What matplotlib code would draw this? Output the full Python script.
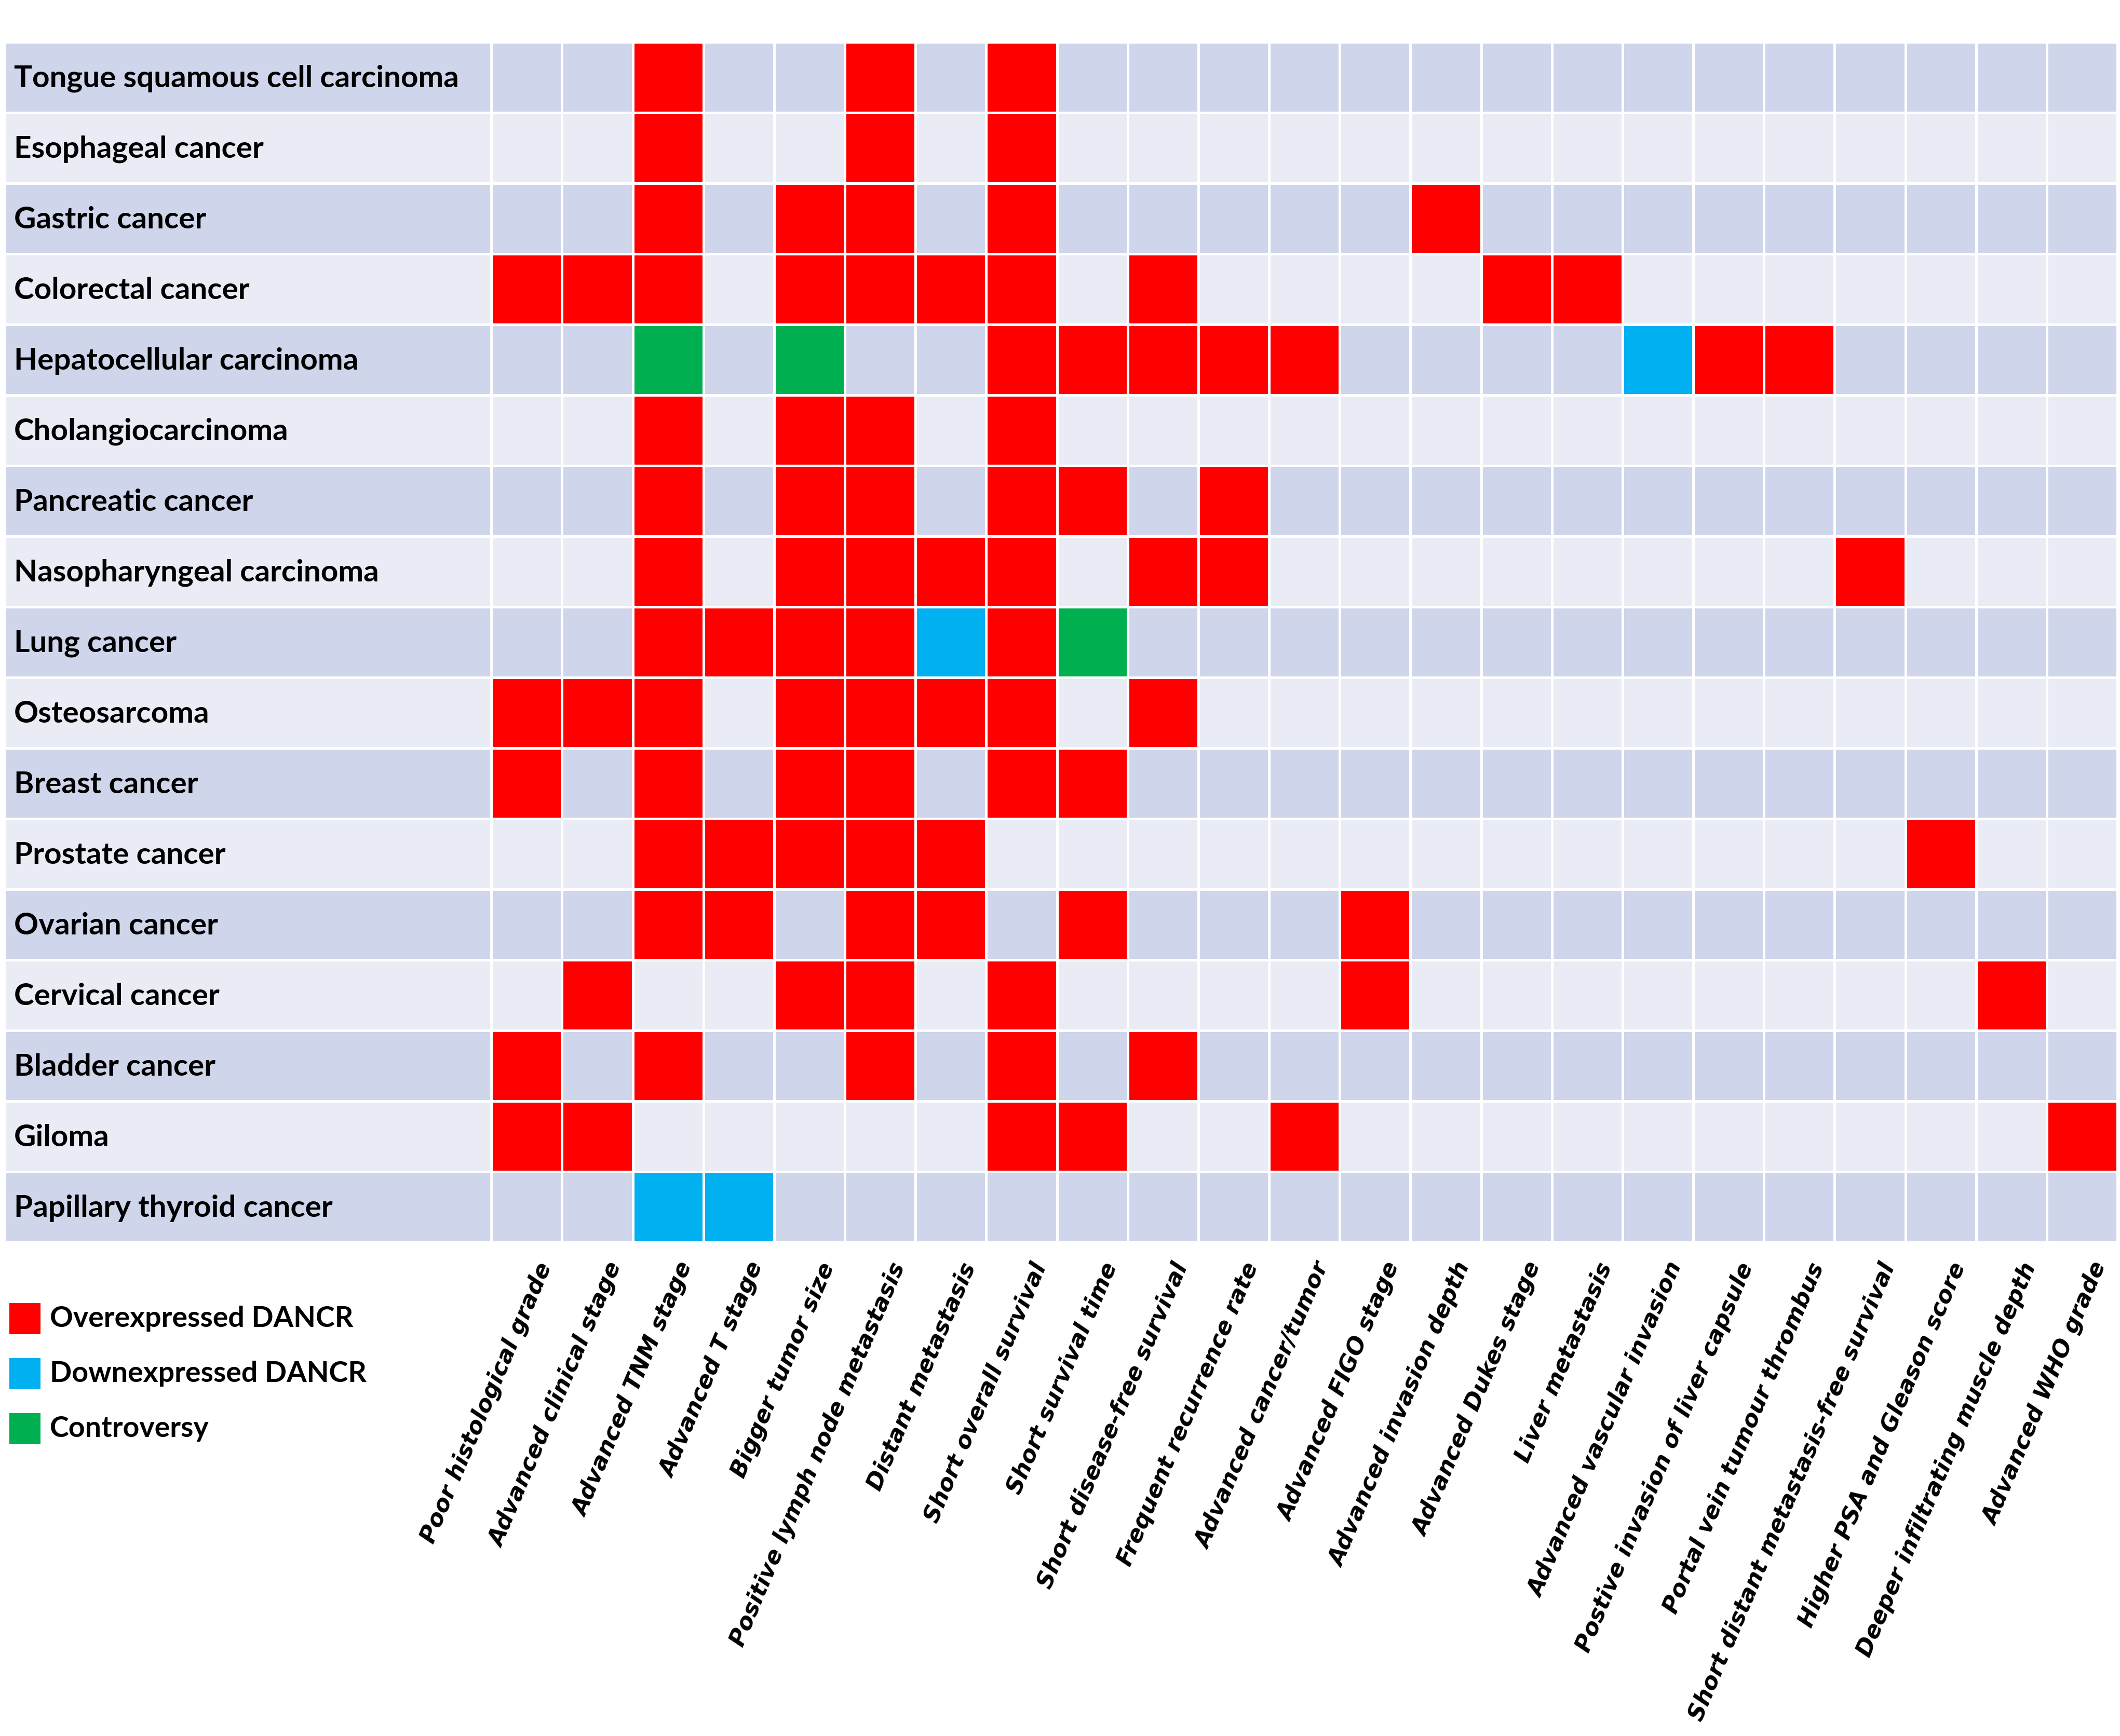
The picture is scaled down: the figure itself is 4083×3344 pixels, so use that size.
import numpy as np
import matplotlib
matplotlib.use("Agg")
import matplotlib.pyplot as plt
from matplotlib.colors import ListedColormap
from matplotlib.patches import Rectangle

cancers = [
    "Tongue squamous cell carcinoma", "Esophageal cancer", "Gastric cancer",
    "Colorectal cancer", "Hepatocellular carcinoma", "Cholangiocarcinoma",
    "Pancreatic cancer", "Nasopharyngeal carcinoma", "Lung cancer",
    "Osteosarcoma", "Breast cancer", "Prostate cancer", "Ovarian cancer",
    "Cervical cancer", "Bladder cancer", "Giloma", "Papillary thyroid cancer",
]

features = [
    "Poor histological grade", "Advanced clinical stage", "Advanced TNM stage",
    "Advanced T stage", "Bigger tumor size", "Positive lymph node metastasis",
    "Distant metastasis", "Short overall survival", "Short survival time",
    "Short disease-free survival", "Frequent recurrence rate",
    "Advanced cancer/tumor", "Advanced FIGO stage", "Advanced invasion depth",
    "Advanced Dukes stage", "Liver metastasis", "Advanced vascular invasion",
    "Postive invasion of liver capsule", "Portal vein tumour thrombus",
    "Short distant metastasis-free survival", "Higher PSA and Gleason score",
    "Deeper infiltrating muscle depth", "Advanced WHO grade",
]

# R = overexpressed, B = downexpressed, G = controversy, . = not reported
status = [
    "..R..R.R...............",
    "..R..R.R...............",
    "..R.RR.R.....R.........",
    "RRR.RRRR.R....RR.......",
    "..G.G..RRRRR....BRR....",
    "..R.RR.R...............",
    "..R.RR.RR.R............",
    "..R.RRRR.RR........R...",
    "..RRRRBRG..............",
    "RRR.RRRR.R.............",
    "R.R.RR.RR..............",
    "..RRRRR.............R..",
    "..RR.RR.R...R..........",
    ".R..RR.R....R........R.",
    "R.R..R.R.R.............",
    "RR.....RR..R..........R",
    "..BB...................",
]

legend_labels = ["Overexpressed DANCR", "Downexpressed DANCR", "Controversy"]

dark_bg = "#CFD5EA"
light_bg = "#E9EBF5"
red = "#FF0000"
blue = "#00B0F0"
green = "#00B050"

W, H = 4083, 3344
fig = plt.figure(figsize=(W / 100, H / 100), dpi=100)
fig.patch.set_facecolor("white")

left_px, right_px, top_px, bottom_px = 8, 4078, 81, 2393
ax = fig.add_axes([left_px / W, 1 - bottom_px / H,
                   (right_px - left_px) / W, (bottom_px - top_px) / H])

n_rows, n_cols = len(cancers), len(features)
label_w = 6.89

code_of = {"R": 2, "B": 3, "G": 4}
grid = np.zeros((n_rows, n_cols + 1), dtype=int)
for i, row in enumerate(status):
    bg = 0 if i % 2 == 0 else 1
    grid[i, 0] = bg
    for j, ch in enumerate(row):
        grid[i, j + 1] = code_of.get(ch, bg)

cmap = ListedColormap([dark_bg, light_bg, red, blue, green])
x_edges = np.concatenate([[-label_w], np.arange(n_cols + 1)])
y_edges = np.arange(n_rows + 1)
ax.pcolormesh(x_edges, y_edges, grid, cmap=cmap, vmin=-0.5, vmax=4.5,
              edgecolors="white", linewidth=2.2)
ax.set_xlim(-label_w, n_cols)
ax.set_ylim(n_rows, 0)
ax.axis("off")

row_font = ["Lato", "DejaVu Sans"]
for i, name in enumerate(cancers):
    ax.text(-label_w + 0.14, i + 0.52, name, ha="left", va="center",
            fontsize=42, fontweight="bold", family=row_font)

for j, name in enumerate(features):
    ax.text(j + 0.62, n_rows + 0.24, name, ha="right", va="top",
            rotation=67, rotation_mode="anchor", fontsize=32,
            fontweight="bold", style="italic", family="DejaVu Sans",
            clip_on=False)

legend_colors = [red, blue, green]
sq = 60
for k, (lab, col) in enumerate(zip(legend_labels, legend_colors)):
    yc = 2540 + k * 106
    fig.patches.append(Rectangle((18 / W, 1 - (yc + sq / 2) / H), sq / W, sq / H,
                                 transform=fig.transFigure, facecolor=col,
                                 edgecolor="none"))
    fig.text(96 / W, 1 - yc / H, lab, ha="left", va="center", fontsize=40,
             fontweight="bold", family=row_font)

fig.savefig("out.png", dpi=100, facecolor="white")
